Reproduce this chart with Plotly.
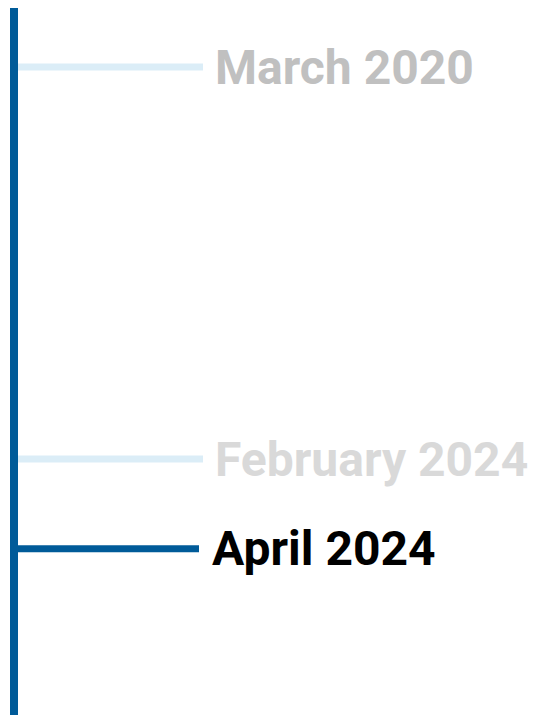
import plotly.graph_objects as go

# ---- data ----
milestones = ["March 2020", "February 2024", "April 2024"]
# position of each milestone along the timeline (0 = top, 100 = bottom)
milestone_pos = [8.35, 63.8, 76.5]
is_current = [False, False, True]
label_colors = ["#c0c0c0", "#d9d9d9", "#000000"]
timeline_start, timeline_end = -1.0, 101.0

LIGHT = "#dbedf7"
DARK = "#005b99"

fig = go.Figure()

for name, pos, cur, col in zip(milestones, milestone_pos, is_current, label_colors):
    fig.add_trace(go.Scatter(
        x=[6, 191 if cur else 195], y=[pos, pos], mode="lines",
        line=dict(color=DARK if cur else LIGHT, width=7),
        hoverinfo="skip", showlegend=False))
    fig.add_annotation(
        x=202 if cur else 205, y=pos, text=name, showarrow=False,
        xanchor="left", yanchor="middle",
        font=dict(family="Roboto", size=48, color=col, weight="bold"))

fig.add_trace(go.Scatter(
    x=[6, 6], y=[timeline_start, timeline_end], mode="lines",
    line=dict(color=DARK, width=8), hoverinfo="skip", showlegend=False))

fig.update_layout(
    width=528, height=707, margin=dict(l=0, r=0, t=0, b=0),
    paper_bgcolor="white", plot_bgcolor="white",
    xaxis=dict(range=[0, 528], visible=False, fixedrange=True),
    yaxis=dict(range=[100, 0], visible=False, fixedrange=True),
)

fig.write_html("out.html")
